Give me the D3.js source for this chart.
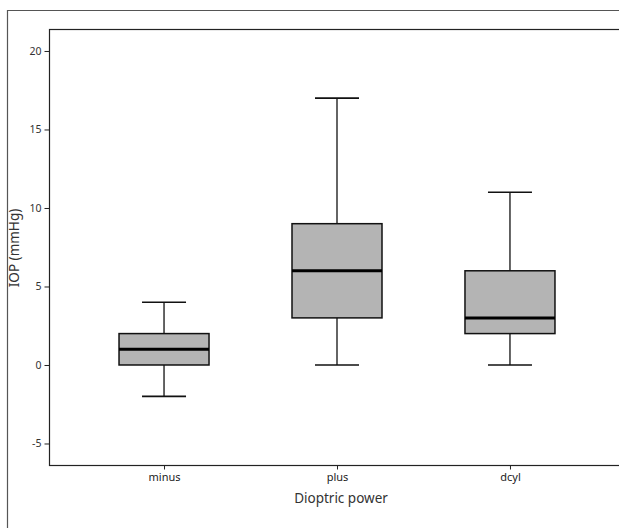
<!DOCTYPE html>
<html>
<head>
<meta charset="utf-8">
<script src="https://cdn.jsdelivr.net/npm/d3@7"></script>
<style>
  body { margin: 0; background: #fff; }
  svg { display: block; font-family: "Noto Sans", "Open Sans", sans-serif; }
</style>
</head>
<body>
<div id="chart"></div>
<script>
const categories = ["minus", "plus", "dcyl"];
const mins = [-2, 0, 0];
const q1s = [0, 3, 2];
const medians = [1, 6, 3];
const q3s = [2, 9, 6];
const maxs = [4, 17, 11];
const yTicks = [-5, 0, 5, 10, 15, 20];

const width = 619;
const height = 528;
const plot = { left: 49, top: 29, right: 625, bottom: 465 };

const svg = d3.select("#chart")
    .append("svg")
    .attr("width", width)
    .attr("height", height);

// outer frame (runs off right and bottom)
svg.append("path")
    .attr("d", "M7.5," + (height + 5) + "V10.5H" + (width + 5))
    .attr("fill", "none")
    .attr("stroke", "#555")
    .attr("stroke-width", 1.2);

const x = d3.scalePoint()
    .domain(categories)
    .range([plot.left, plot.right])
    .padding(0.665);

const y = d3.scaleLinear()
    .domain([-6.37, 21.4])
    .range([plot.bottom, plot.top]);

// plot frame
svg.append("rect")
    .attr("x", plot.left + 0.5)
    .attr("y", plot.top + 0.5)
    .attr("width", plot.right - plot.left)
    .attr("height", plot.bottom - plot.top)
    .attr("fill", "none")
    .attr("stroke", "#222")
    .attr("stroke-width", 1.2);

const yAxis = svg.append("g")
    .attr("transform", "translate(" + (plot.left + 0.5) + ",0)")
    .call(d3.axisLeft(y).tickValues(yTicks).tickFormat(d => String(d)).tickSize(5).tickPadding(3));
yAxis.select(".domain").remove();
yAxis.selectAll("text").attr("font-size", 10.5).attr("fill", "#333").attr("font-family", "Noto Sans");
yAxis.selectAll("line").attr("stroke", "#222");

const xAxis = svg.append("g")
    .attr("transform", "translate(0," + (plot.bottom + 0.5) + ")")
    .call(d3.axisBottom(x).tickSize(4).tickPadding(4));
xAxis.select(".domain").remove();
xAxis.selectAll("text").attr("font-size", 11).attr("fill", "#222").attr("font-family", "Noto Sans");
xAxis.selectAll("line").attr("stroke", "#222");

svg.append("text")
    .attr("x", 341)
    .attr("y", 503)
    .attr("text-anchor", "middle")
    .attr("font-size", 13.5)
    .attr("fill", "#333")
    .text("Dioptric power");

svg.append("text")
    .attr("transform", "translate(19,248) rotate(-90)")
    .attr("text-anchor", "middle")
    .attr("font-size", 13.5)
    .attr("fill", "#333")
    .text("IOP (mmHg)");

const boxW = 90;
const capW = 44;
const boxes = categories.map((c, i) => ({
    cat: c, min: mins[i], q1: q1s[i], med: medians[i], q3: q3s[i], max: maxs[i]
}));

const g = svg.append("g")
    .selectAll("g")
    .data(boxes)
    .join("g")
    .attr("transform", d => "translate(" + x(d.cat) + ",0)");

// whiskers
g.append("line")
    .attr("x1", 0).attr("x2", 0)
    .attr("y1", d => y(d.max)).attr("y2", d => y(d.q3))
    .attr("stroke", "#111").attr("stroke-width", 1.3);
g.append("line")
    .attr("x1", 0).attr("x2", 0)
    .attr("y1", d => y(d.q1)).attr("y2", d => y(d.min))
    .attr("stroke", "#111").attr("stroke-width", 1.3);
g.append("line")
    .attr("x1", -capW / 2).attr("x2", capW / 2)
    .attr("y1", d => y(d.max)).attr("y2", d => y(d.max))
    .attr("stroke", "#111").attr("stroke-width", 1.6);
g.append("line")
    .attr("x1", -capW / 2).attr("x2", capW / 2)
    .attr("y1", d => y(d.min)).attr("y2", d => y(d.min))
    .attr("stroke", "#111").attr("stroke-width", 1.6);

g.append("rect")
    .attr("x", -boxW / 2)
    .attr("width", boxW)
    .attr("y", d => y(d.q3))
    .attr("height", d => y(d.q1) - y(d.q3))
    .attr("fill", "#b4b4b4")
    .attr("stroke", "#111")
    .attr("stroke-width", 1.5);

g.append("line")
    .attr("x1", -boxW / 2).attr("x2", boxW / 2)
    .attr("y1", d => y(d.med)).attr("y2", d => y(d.med))
    .attr("stroke", "#000").attr("stroke-width", 3);
</script>
</body>
</html>
